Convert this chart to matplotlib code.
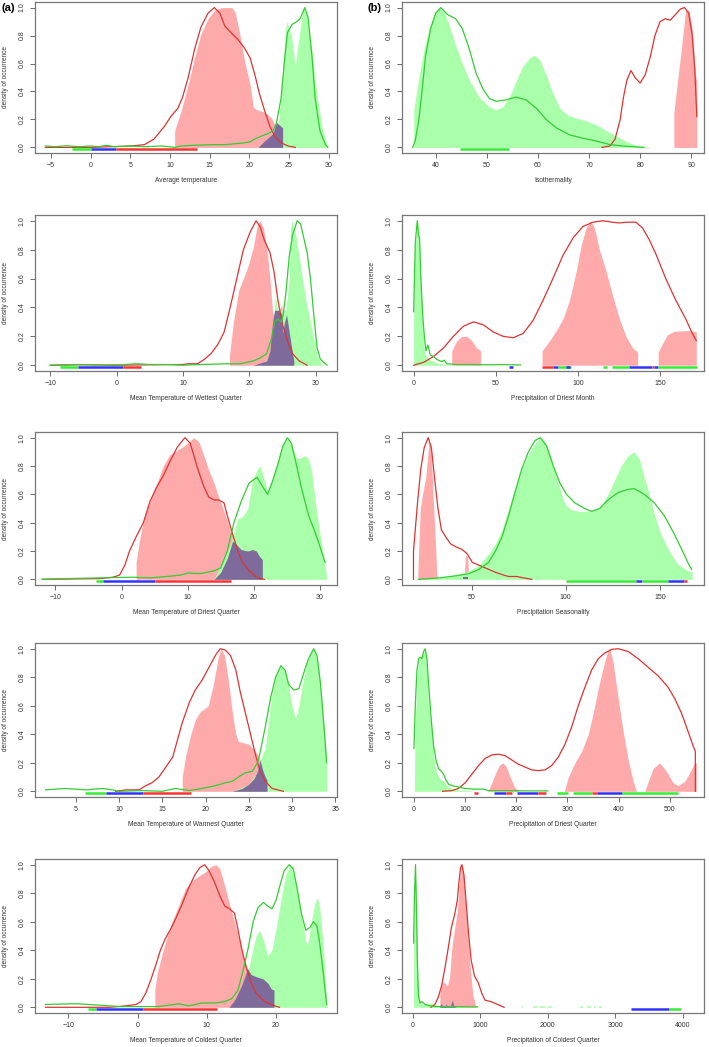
import matplotlib
matplotlib.use("Agg")
import matplotlib.pyplot as plt

plt.rcParams["font.family"] = ["Liberation Sans", "DejaVu Sans"]

RED_FILL = "#FFAAAA"
GREEN_FILL = "#AAFFAA"
PURPLE = "#7F6B9B"
RED_LINE = "#DD3333"
GREEN_LINE = "#33CC33"
SEG_COLORS = {"red": "#FF3333", "green": "#33EE33", "blue": "#3333FF"}

# ---- (a) Average temperature
a_red_fill_x = [10.6, 10.6, 11.4, 12.3, 13.1, 13.9, 14.8, 15.6, 16.5, 17.8, 18.2, 18.8, 19.4, 20.1, 20.5, 20.9, 22.0, 22.8, 23.4, 24.1, 24.5]
a_red_fill_y = [0, 0.12, 0.26, 0.45, 0.64, 0.81, 0.92, 0.98, 1.0, 1.0, 0.97, 0.81, 0.62, 0.45, 0.29, 0.27, 0.25, 0.21, 0.14, 0.05, 0]
a_green_fill_x = [23.4, 24.1, 24.5, 24.7, 25.3, 25.8, 26.3, 26.8, 27.2, 27.9, 28.5, 29.2, 29.8]
a_green_fill_y = [0.0, 0.45, 0.8, 0.9, 0.8, 0.59, 0.8, 1.0, 0.95, 0.69, 0.38, 0.14, 0.01]
a_purple_x = [21.1, 21.8, 22.4, 23.0, 23.4, 23.8, 24.2, 24.2]
a_purple_y = [0, 0.04, 0.07, 0.10, 0.18, 0.16, 0.14, 0]
a_red_line_x = [-5.7, 0, 5.1, 6.8, 8.0, 9.3, 10.1, 11.0, 11.6, 12.3, 13.1, 13.9, 14.8, 15.6, 16.3, 16.9, 17.7, 18.6, 19.4, 20.1, 20.7, 21.3, 22.0, 22.6, 23.2, 24.1, 24.9, 25.8]
a_red_line_y = [0.0, 0.0, 0.01, 0.02, 0.06, 0.15, 0.22, 0.28, 0.36, 0.5, 0.7, 0.86, 0.96, 1.0, 0.96, 0.87, 0.82, 0.77, 0.71, 0.64, 0.52, 0.38, 0.25, 0.15, 0.08, 0.03, 0.01, 0.0]
a_green_line_x = [-5.7, -4.5, -3.0, -1.5, 0.0, 1.0, 2.0, 3.0, 5.0, 7.0, 9.0, 10.6, 11.4, 13.0, 15.6, 17.0, 19.0, 20.1, 20.7, 21.5, 22.4, 23.0, 23.4, 24.0, 24.4, 24.8, 25.4, 26.0, 26.4, 27.0, 27.4, 27.9, 28.3, 28.9, 29.6, 29.9]
a_green_line_y = [0.01, 0.005, 0.012, 0.005, 0.01, 0.005, 0.015, 0.005, 0.01, 0.005, 0.01, 0.0, 0.01, 0.015, 0.02, 0.02, 0.03, 0.04, 0.06, 0.08, 0.1, 0.12, 0.17, 0.35, 0.6, 0.82, 0.88, 0.9, 0.92, 1.0, 0.93, 0.65, 0.35, 0.12, 0.02, 0.0]
a_seg_start = [-2.3, 0.0, 3.2]
a_seg_end = [0.0, 3.2, 13.4]
a_seg_color = ["green", "blue", "red"]
a_xticks = [-5, 0, 5, 10, 15, 20, 25, 30]

# ---- (b) Isothermality
b_green_fill_x = [35.7, 35.7, 36.7, 37.7, 38.7, 39.7, 40.7, 41.6, 42.6, 43.9, 45.2, 46.6, 48.5, 50.5, 51.8, 53.1, 54.4, 55.7, 57.0, 58.4, 59.3, 60.3, 61.6, 63.0, 64.3, 65.9, 67.5, 69.5, 71.5, 73.4, 75.4, 77.4, 79.3, 82.0]
b_green_fill_y = [0, 0.27, 0.5, 0.7, 0.85, 0.95, 1.0, 0.97, 0.88, 0.73, 0.6, 0.48, 0.36, 0.29, 0.27, 0.29, 0.36, 0.47, 0.58, 0.64, 0.66, 0.63, 0.52, 0.38, 0.28, 0.23, 0.21, 0.19, 0.16, 0.12, 0.08, 0.04, 0.015, 0.0]
b_green_line_x = [35.5, 36.0, 36.7, 37.4, 38.0, 39.0, 40.0, 41.0, 42.3, 43.9, 45.2, 46.6, 47.9, 49.2, 50.5, 51.8, 53.8, 55.7, 57.7, 59.7, 61.6, 63.6, 66.2, 68.9, 71.5, 74.1, 76.7, 80.7]
b_green_line_y = [0.0, 0.05, 0.2, 0.43, 0.65, 0.85, 0.96, 1.0, 0.95, 0.92, 0.85, 0.7, 0.53, 0.42, 0.35, 0.33, 0.34, 0.36, 0.34, 0.28, 0.2, 0.14, 0.09, 0.065, 0.045, 0.02, 0.01, 0.0]
b_red_fill_x = [86.6, 86.6, 87.9, 88.9, 89.6, 90.2, 90.9, 91.1, 91.1]
b_red_fill_y = [0, 0.25, 0.65, 0.98, 0.98, 0.85, 0.5, 0.48, 0]
b_red_line_x = [72.5, 74.1, 75.1, 76.1, 76.7, 77.4, 78.2, 79.0, 80.0, 81.0, 82.0, 82.9, 83.9, 84.9, 85.9, 86.9, 87.9, 88.7, 89.5, 90.2, 90.7, 91.0, 91.1]
b_red_line_y = [0.0, 0.01, 0.06, 0.2, 0.35, 0.48, 0.55, 0.5, 0.46, 0.52, 0.65, 0.8, 0.9, 0.92, 0.91, 0.95, 0.99, 1.0, 0.96, 0.8, 0.55, 0.3, 0.22]
b_seg_start = [44.7]
b_seg_end = [54.3]
b_seg_color = ["green"]
b_xticks = [40, 50, 60, 70, 80, 90]

# ---- (c) Mean Temperature of Wettest Quarter
c_red_fill_x = [17.0, 17.0, 17.6, 18.4, 19.1, 19.9, 20.6, 21.2, 21.6, 22.1, 22.6, 23.1, 23.5, 24.0, 24.5, 24.9, 25.1, 25.4, 25.8, 26.2, 26.5]
c_red_fill_y = [0, 0.07, 0.3, 0.52, 0.6, 0.7, 0.82, 0.97, 1.0, 0.95, 0.82, 0.6, 0.37, 0.3, 0.38, 0.42, 0.22, 0.35, 0.3, 0.1, 0.0]
c_green_fill_x = [22.1, 23.3, 23.9, 24.3, 25.5, 26.0, 26.2, 26.4, 27.0, 27.5, 28.0, 28.5, 29.2, 29.7, 30.2, 30.7, 31.2]
c_green_fill_y = [0.0, 0.1, 0.48, 0.38, 0.38, 0.6, 0.95, 1.0, 0.9, 0.75, 0.6, 0.45, 0.3, 0.18, 0.07, 0.02, 0.0]
c_purple_x = [20.6, 22.6, 23.1, 23.5, 23.8, 24.5, 24.9, 25.0, 25.3, 25.6, 26.1, 26.5, 26.7, 26.7]
c_purple_y = [0.0, 0.03, 0.1, 0.3, 0.38, 0.38, 0.35, 0.22, 0.3, 0.35, 0.2, 0.08, 0.03, 0.0]
c_red_line_x = [-10.0, -5.0, 0.0, 5.0, 10.0, 10.7, 12.2, 13.2, 14.2, 15.2, 16.2, 17.1, 18.1, 19.1, 20.1, 21.0, 21.6, 22.3, 23.1, 23.7, 24.3, 25.0, 25.8, 26.5, 27.5, 28.7]
c_red_line_y = [0.0, 0.003, 0.0, 0.003, 0.005, 0.01, 0.01, 0.04, 0.08, 0.14, 0.23, 0.4, 0.6, 0.8, 0.92, 1.0, 0.96, 0.86, 0.78, 0.65, 0.45, 0.28, 0.16, 0.08, 0.03, 0.0]
c_green_line_x = [-10.0, -6.0, -2.0, 0.6, 2.9, 5.0, 7.8, 10.0, 12.7, 16.7, 18.6, 20.6, 21.6, 22.6, 23.3, 23.8, 24.3, 24.8, 25.1, 25.5, 26.0, 26.5, 27.2, 27.7, 28.2, 28.7, 29.2, 29.7, 30.2, 30.7, 31.7]
c_green_line_y = [0.0, 0.005, 0.002, 0.003, 0.01, 0.005, 0.005, 0.0, 0.005, 0.01, 0.01, 0.03, 0.05, 0.08, 0.18, 0.3, 0.32, 0.3, 0.35, 0.5, 0.75, 0.9, 1.0, 0.98, 0.88, 0.78, 0.6, 0.35, 0.12, 0.04, 0.0]
c_seg_start = [-8.5, -5.8, 0.9]
c_seg_end = [-5.8, 0.9, 3.7]
c_seg_color = ["green", "blue", "red"]
c_xticks = [-10, 0, 10, 20, 30]

# ---- (d) Precipitation of Driest Month
d_green_fill_x = [0.0, 0.0, 0.6, 1.6, 2.4, 3.4, 4.4, 5.5, 6.7, 8.1, 9.1, 11.1, 14.1, 20.2, 26.0]
d_green_fill_y = [0.0, 0.37, 0.8, 0.9, 1.0, 0.85, 0.55, 0.25, 0.08, 0.06, 0.04, 0.03, 0.015, 0.005, 0.0]
d_green_line_x = [0.0, 1.0, 2.2, 3.0, 3.6, 4.4, 5.5, 6.5, 7.5, 8.7, 10.1, 12.1, 14.1, 17.2, 18.6, 20.2, 26.3, 36.4, 45.0, 55.0, 65.0]
d_green_line_y = [0.37, 0.85, 1.0, 0.9, 0.88, 0.6, 0.35, 0.2, 0.1, 0.14, 0.07, 0.06, 0.04, 0.025, 0.035, 0.01, 0.005, 0.005, 0.003, 0.004, 0.002]
d_red_fill_x = [23.2, 23.2, 26.3, 29.3, 32.3, 35.4, 38.4, 40.8, 40.8, 78.2, 78.2, 82.8, 86.9, 90.9, 94.9, 99.0, 102.0, 105.0, 107.7, 110.1, 113.1, 117.2, 121.2, 125.3, 129.3, 133.3, 136.4, 136.4, 148.9, 148.9, 151.5, 154.5, 158.6, 167.7, 172.1, 172.1]
d_red_fill_y = [0, 0.1, 0.17, 0.2, 0.2, 0.17, 0.12, 0.1, 0, 0, 0.1, 0.17, 0.24, 0.32, 0.45, 0.65, 0.83, 0.95, 1.0, 0.95, 0.8, 0.65, 0.48, 0.32, 0.2, 0.12, 0.09, 0, 0, 0.09, 0.15, 0.21, 0.235, 0.24, 0.23, 0]
d_red_line_x = [0.0, 6.1, 12.1, 18.2, 24.2, 30.3, 36.4, 42.4, 48.5, 54.5, 60.6, 66.7, 72.7, 78.8, 84.8, 90.9, 97.0, 103.0, 109.1, 115.2, 121.2, 125.3, 129.3, 135.4, 139.4, 143.4, 147.5, 153.5, 159.6, 165.7, 169.7, 172.1]
d_red_line_y = [0.0, 0.02, 0.06, 0.12, 0.2, 0.27, 0.3, 0.28, 0.23, 0.2, 0.19, 0.22, 0.31, 0.45, 0.6, 0.76, 0.88, 0.96, 0.99, 1.0, 0.99, 0.985, 0.99, 0.99, 0.95, 0.87, 0.77, 0.6, 0.45, 0.32, 0.22, 0.17]
d_seg_start = [58.0, 78.2, 85.0, 88.0, 93.0, 115.0, 121.0, 131.0, 145.0, 146.5, 149.0]
d_seg_end = [60.6, 85.0, 88.0, 96.0, 95.0, 118.0, 131.0, 145.0, 146.5, 149.0, 172.5]
d_seg_color = ["blue", "red", "blue", "green", "blue", "green", "green", "blue", "red", "blue", "green"]
d_xticks = [0, 50, 100, 150]

# ---- (e) Mean Temperature of Driest Quarter
e_red_fill_x = [2.2, 2.2, 2.8, 3.5, 4.3, 5.3, 6.3, 7.3, 8.4, 9.4, 10.2, 10.9, 11.7, 12.4, 13.2, 14.0, 14.7, 15.5, 16.3, 17.0, 17.8, 18.6, 19.6, 20.4, 20.9, 21.3, 21.3]
e_red_fill_y = [0, 0.12, 0.3, 0.45, 0.55, 0.67, 0.8, 0.88, 0.91, 0.94, 0.97, 1.0, 0.97, 0.88, 0.77, 0.68, 0.58, 0.48, 0.37, 0.27, 0.22, 0.205, 0.21, 0.2, 0.16, 0.14, 0]
e_purple_x = [14.0, 15.0, 16.0, 16.8, 17.3, 18.1, 19.1, 19.8, 20.4, 20.9, 21.3, 21.3]
e_purple_y = [0.0, 0.05, 0.15, 0.27, 0.25, 0.21, 0.2, 0.21, 0.2, 0.16, 0.14, 0.0]
e_green_fill_x = [14.0, 16.5, 17.6, 18.3, 19.1, 19.8, 20.6, 21.0, 21.6, 22.1, 22.9, 23.7, 24.4, 25.1, 25.7, 26.5, 27.2, 27.8, 28.3, 28.8, 29.3, 30.1, 30.6, 31.0, 31.0]
e_green_fill_y = [0, 0.25, 0.43, 0.44, 0.5, 0.7, 0.78, 0.8, 0.7, 0.62, 0.72, 0.85, 0.95, 1.0, 0.95, 0.85, 0.86, 0.875, 0.85, 0.75, 0.55, 0.3, 0.15, 0.03, 0]
e_green_line_x = [-12.0, -8.5, -3.4, 1.7, 4.3, 6.8, 8.9, 10.2, 11.9, 14.0, 15.0, 16.0, 17.0, 18.1, 19.3, 20.5, 21.4, 22.1, 22.9, 23.7, 24.4, 25.1, 25.7, 26.5, 27.2, 28.3, 29.3, 30.1, 30.8]
e_green_line_y = [0.0, 0.005, 0.01, 0.015, 0.01, 0.02, 0.03, 0.045, 0.04, 0.06, 0.08, 0.2, 0.4, 0.55, 0.68, 0.72, 0.65, 0.6, 0.7, 0.82, 0.94, 1.0, 0.96, 0.8, 0.65, 0.45, 0.33, 0.22, 0.12]
e_red_line_x = [-12.0, -3.4, -1.3, -0.3, 0.5, 1.2, 2.2, 3.3, 4.3, 5.3, 6.3, 7.3, 8.4, 9.4, 9.6, 10.4, 11.4, 12.4, 13.2, 14.0, 14.7, 15.5, 16.0, 16.8, 17.6, 18.3, 19.3, 20.6, 21.6]
e_red_line_y = [0.0, 0.005, 0.015, 0.03, 0.1, 0.2, 0.3, 0.4, 0.55, 0.65, 0.73, 0.83, 0.93, 0.99, 1.0, 0.96, 0.8, 0.66, 0.58, 0.56, 0.56, 0.54, 0.45, 0.32, 0.2, 0.12, 0.06, 0.01, 0.0]
e_seg_start = [-3.9, -2.8, 5.1]
e_seg_end = [-2.8, 5.1, 16.5]
e_seg_color = ["green", "blue", "red"]
e_xticks = [-10, 0, 10, 20, 30]

# ---- (f) Precipitation Seasonality
f_red_fill_x = [21.5, 21.5, 22.8, 24.0, 25.7, 27.5, 28.4, 29.6, 30.7, 31.5, 32.0, 46.0, 46.8, 47.9, 48.6]
f_red_fill_y = [0.0, 0.05, 0.5, 0.6, 0.72, 0.98, 0.95, 0.6, 0.3, 0.06, 0.0, 0.0, 0.17, 0.16, 0.0]
f_purple_x = [45.7, 45.7, 48.2, 48.2]
f_purple_y = [0, 0.02, 0.02, 0]
f_green_fill_x = [21.9, 32.8, 41.6, 48.6, 53.9, 59.1, 62.7, 66.2, 69.7, 73.2, 76.7, 80.2, 83.7, 86.6, 89.0, 92.5, 96.0, 99.6, 103.1, 106.6, 111.9, 115.4, 118.9, 122.4, 125.9, 129.4, 132.9, 136.1, 139.1, 141.7, 144.4, 147.0, 150.5, 154.9, 159.3, 163.7, 167.2, 167.2]
f_green_fill_y = [0.0, 0.01, 0.03, 0.06, 0.1, 0.18, 0.25, 0.35, 0.5, 0.65, 0.78, 0.88, 0.96, 1.0, 0.97, 0.85, 0.68, 0.53, 0.49, 0.48, 0.48, 0.49, 0.52, 0.6, 0.7, 0.8, 0.87, 0.9, 0.85, 0.72, 0.6, 0.46, 0.32, 0.2, 0.11, 0.07, 0.05, 0.0]
f_green_line_x = [21.9, 32.8, 41.6, 48.6, 53.9, 59.1, 62.7, 66.2, 69.7, 73.2, 76.7, 80.2, 83.7, 86.6, 89.9, 93.4, 96.9, 100.4, 104.8, 110.1, 113.6, 118.0, 122.4, 127.6, 132.9, 136.5, 141.7, 147.0, 152.3, 157.6, 162.0, 165.5, 166.9]
f_green_line_y = [0.0, 0.01, 0.025, 0.04, 0.07, 0.12, 0.2, 0.3, 0.45, 0.62, 0.78, 0.9, 0.98, 1.0, 0.94, 0.8, 0.68, 0.6, 0.54, 0.5, 0.48, 0.5, 0.56, 0.61, 0.635, 0.64, 0.6, 0.54, 0.45, 0.32, 0.2, 0.1, 0.07]
f_red_line_x = [19.2, 19.2, 21.4, 23.1, 24.9, 27.0, 28.7, 30.5, 32.2, 34.0, 36.3, 38.9, 41.6, 45.1, 47.7, 50.4, 53.9, 58.3, 62.7, 67.0, 69.7, 74.1, 77.6, 82.0]
f_red_line_y = [0.0, 0.2, 0.55, 0.78, 0.93, 1.0, 0.93, 0.7, 0.5, 0.35, 0.3, 0.25, 0.23, 0.21, 0.18, 0.12, 0.1, 0.075, 0.05, 0.03, 0.02, 0.02, 0.01, 0.0]
f_seg_start = [100.4, 137.3, 140.3, 154.4, 162.8]
f_seg_end = [137.3, 140.3, 154.4, 162.8, 164.6]
f_seg_color = ["green", "blue", "green", "blue", "red"]
f_xticks = [50, 100, 150]

# ---- (g) Mean Temperature of Warmest Quarter
g_red_fill_x = [17.3, 17.3, 17.7, 18.3, 18.8, 19.4, 19.9, 20.3, 20.8, 21.2, 21.5, 21.8, 22.2, 22.7, 23.1, 23.5, 23.8, 24.4, 25.0, 25.5, 26.0, 26.3, 26.6, 26.9, 27.1, 27.1]
g_red_fill_y = [0, 0.1, 0.25, 0.4, 0.5, 0.56, 0.58, 0.6, 0.72, 0.85, 0.95, 1.0, 0.95, 0.75, 0.55, 0.4, 0.35, 0.34, 0.33, 0.3, 0.26, 0.22, 0.15, 0.1, 0.08, 0]
g_purple_x = [23.1, 24.2, 25.0, 25.6, 26.0, 26.3, 26.6, 26.9, 27.1, 27.1]
g_purple_y = [0.0, 0.02, 0.05, 0.09, 0.14, 0.22, 0.15, 0.1, 0.08, 0.0]
g_green_fill_x = [23.1, 25.0, 26.0, 26.3, 26.9, 27.3, 27.7, 28.1, 28.6, 29.0, 29.5, 30.0, 30.4, 30.8, 31.2, 31.7, 32.3, 32.6, 33.1, 33.5, 33.8, 34.0, 34.0]
g_green_fill_y = [0, 0.05, 0.14, 0.22, 0.3, 0.5, 0.7, 0.8, 0.87, 0.87, 0.78, 0.6, 0.51, 0.6, 0.75, 0.9, 0.98, 1.0, 0.85, 0.6, 0.38, 0.25, 0]
g_green_line_x = [1.5, 3.8, 6.2, 8.1, 9.2, 10.0, 12.7, 15.0, 16.5, 18.1, 19.6, 21.2, 22.3, 23.1, 23.8, 24.6, 25.4, 26.0, 26.3, 26.9, 27.5, 28.1, 28.7, 29.2, 29.6, 30.2, 30.8, 31.3, 31.9, 32.5, 32.9, 33.3, 33.7, 34.0]
g_green_line_y = [0.01, 0.02, 0.01, 0.02, 0.01, 0.0, 0.005, 0.0, 0.02, 0.005, 0.02, 0.04, 0.06, 0.07, 0.1, 0.13, 0.14, 0.2, 0.27, 0.45, 0.65, 0.8, 0.88, 0.85, 0.75, 0.71, 0.72, 0.82, 0.93, 1.0, 0.95, 0.75, 0.45, 0.2]
g_red_line_x = [9.6, 10.8, 12.3, 13.1, 13.8, 14.6, 15.4, 16.2, 16.7, 17.3, 18.1, 18.8, 19.6, 20.4, 21.2, 21.7, 22.3, 22.9, 23.5, 24.0, 24.6, 25.2, 25.8, 26.3, 26.9, 27.7, 29.0]
g_red_line_y = [0.0, 0.01, 0.01, 0.04, 0.06, 0.1, 0.17, 0.24, 0.35, 0.48, 0.62, 0.71, 0.78, 0.87, 0.96, 1.0, 0.99, 0.95, 0.85, 0.7, 0.55, 0.4, 0.25, 0.14, 0.07, 0.02, 0.0]
g_seg_start = [6.0, 8.5, 12.8]
g_seg_end = [8.5, 12.8, 18.3]
g_seg_color = ["green", "blue", "red"]
g_xticks = [5, 10, 15, 20, 25, 30, 35]

# ---- (h) Precipitation of Driest Quarter
h_green_fill_x = [1.3, 3.2, 6.5, 9.7, 14.9, 19.5, 22.7, 26.0, 29.2, 34.4, 38.9, 45.4, 51.9, 58.4, 64.9, 74.6, 87.6, 107.0, 120.0]
h_green_fill_y = [0.0, 0.5, 0.8, 0.92, 0.94, 0.97, 0.99, 0.85, 0.6, 0.45, 0.25, 0.12, 0.09, 0.07, 0.04, 0.02, 0.01, 0.005, 0.0]
h_green_line_x = [0.6, 3.2, 6.5, 9.7, 13.0, 16.2, 19.5, 22.7, 26.0, 29.2, 34.4, 38.9, 43.5, 48.7, 53.9, 58.4, 62.9, 68.1, 74.6, 87.6, 100.6, 120.0, 136.3, 146.0, 178.0, 220.0, 262.0]
h_green_line_y = [0.3, 0.6, 0.85, 0.93, 0.94, 0.93, 0.98, 1.0, 0.93, 0.75, 0.5, 0.32, 0.22, 0.16, 0.14, 0.12, 0.08, 0.05, 0.04, 0.03, 0.02, 0.015, 0.015, 0.005, 0.005, 0.003, 0.003]
h_red_fill_x = [144.7, 152.5, 159.0, 166.8, 173.3, 179.8, 188.2, 196.6, 205.7, 294.0, 301.8, 314.7, 327.7, 340.7, 350.4, 360.2, 369.9, 378.3, 382.9, 389.4, 399.1, 408.8, 418.6, 428.3, 434.8, 451.0, 458.8, 467.2, 480.2, 493.2, 506.2, 515.9, 528.9, 538.6, 548.3, 551.6, 551.6]
h_red_fill_y = [0.0, 0.06, 0.12, 0.18, 0.2, 0.18, 0.1, 0.03, 0.0, 0.0, 0.1, 0.2, 0.28, 0.4, 0.55, 0.72, 0.87, 0.98, 1.0, 0.9, 0.65, 0.42, 0.22, 0.07, 0.0, 0.0, 0.08, 0.16, 0.2, 0.14, 0.06, 0.04, 0.07, 0.13, 0.2, 0.2, 0.0]
h_red_line_x = [56.5, 74.6, 87.6, 100.6, 113.6, 126.5, 139.5, 152.5, 165.5, 178.5, 191.4, 204.4, 217.4, 230.4, 243.3, 256.3, 269.3, 282.3, 295.3, 308.2, 321.2, 334.2, 347.2, 360.2, 373.1, 386.1, 399.1, 418.6, 438.0, 457.5, 477.0, 496.4, 509.4, 522.4, 535.4, 545.1, 549.6, 549.6]
h_red_line_y = [0.0, 0.005, 0.02, 0.06, 0.12, 0.18, 0.23, 0.255, 0.26, 0.25, 0.22, 0.19, 0.17, 0.15, 0.145, 0.15, 0.18, 0.24, 0.33, 0.45, 0.6, 0.73, 0.85, 0.93, 0.97, 0.995, 1.0, 0.98, 0.93, 0.87, 0.81, 0.73, 0.65, 0.55, 0.42, 0.32, 0.28, 0.0]
h_seg_start = [116.8, 157.7, 179.8, 201.0, 243.3, 280.3, 311.5, 347.2, 356.9, 405.6]
h_seg_end = [126.5, 179.8, 192.7, 243.3, 257.6, 301.8, 347.2, 356.9, 405.6, 515.9]
h_seg_color = ["red", "blue", "red", "blue", "red", "green", "green", "red", "blue", "green"]
h_xticks = [0, 100, 200, 300, 400, 500]

# ---- (i) Mean Temperature of Coldest Quarter
i_red_fill_x = [2.5, 2.5, 2.9, 3.6, 4.3, 5.0, 6.0, 6.9, 7.9, 8.8, 9.8, 10.7, 11.3, 11.9, 12.6, 13.3, 14.0, 14.8, 15.4, 15.9, 16.4, 17.1, 18.1, 18.8, 19.3, 19.7, 19.7]
i_red_fill_y = [0.0, 0.13, 0.25, 0.38, 0.5, 0.6, 0.72, 0.83, 0.89, 0.92, 0.95, 0.99, 1.0, 0.97, 0.85, 0.72, 0.6, 0.45, 0.33, 0.27, 0.23, 0.215, 0.2, 0.17, 0.13, 0.12, 0.0]
i_purple_x = [13.2, 14.0, 15.0, 15.9, 16.4, 17.1, 18.1, 18.8, 19.3, 19.7, 19.7]
i_purple_y = [0.0, 0.05, 0.15, 0.27, 0.23, 0.215, 0.2, 0.17, 0.13, 0.12, 0.0]
i_green_fill_x = [13.6, 15.7, 16.4, 17.1, 17.6, 18.2, 18.8, 19.4, 20.0, 20.7, 21.4, 22.0, 22.6, 23.3, 23.8, 24.3, 24.6, 25.1, 25.6, 26.0, 26.3, 26.8, 27.1, 27.4]
i_green_fill_y = [0.0, 0.2, 0.35, 0.5, 0.54, 0.47, 0.36, 0.4, 0.55, 0.75, 0.93, 1.0, 0.93, 0.75, 0.6, 0.46, 0.44, 0.6, 0.73, 0.77, 0.7, 0.45, 0.2, 0.0]
i_green_line_x = [-13.3, -8.8, -5.5, -4.0, -2.6, 0.2, 3.1, 6.0, 7.4, 9.3, 11.2, 12.6, 13.6, 14.5, 15.2, 16.0, 16.7, 17.4, 18.2, 18.8, 19.4, 20.0, 20.7, 21.2, 21.9, 22.5, 23.1, 23.7, 24.3, 24.9, 25.4, 25.9, 26.3, 26.8, 27.3]
i_green_line_y = [0.02, 0.025, 0.015, 0.01, 0.005, 0.005, 0.005, 0.025, 0.01, 0.03, 0.03, 0.04, 0.06, 0.12, 0.25, 0.42, 0.6, 0.7, 0.735, 0.71, 0.69, 0.75, 0.88, 0.96, 1.0, 0.97, 0.82, 0.65, 0.54, 0.56, 0.6, 0.57, 0.45, 0.25, 0.02]
i_red_line_x = [-13.3, -4.0, -1.7, -0.2, 0.5, 1.2, 1.9, 2.6, 3.3, 4.0, 4.8, 5.5, 6.4, 7.4, 8.3, 9.0, 9.7, 10.3, 11.1, 11.9, 12.6, 13.3, 14.0, 14.4, 15.0, 15.7, 16.4, 17.1, 17.9, 18.8, 19.8, 20.5]
i_red_line_y = [0.0, 0.0, 0.01, 0.02, 0.04, 0.1, 0.19, 0.29, 0.4, 0.48, 0.55, 0.62, 0.72, 0.84, 0.93, 0.98, 1.0, 0.96, 0.88, 0.78, 0.71, 0.69, 0.66, 0.57, 0.42, 0.28, 0.17, 0.1, 0.06, 0.03, 0.01, 0.0]
i_seg_start = [-7.2, -6.0, 0.8]
i_seg_end = [-6.0, 0.8, 11.5]
i_seg_color = ["green", "blue", "red"]
i_xticks = [-10, 0, 10, 20]

# ---- (j) Precipitation of Coldest Quarter
j_green_fill_x = [15, 15, 29, 39, 54, 68, 83, 102, 136, 283, 331, 429, 940]
j_green_fill_y = [0.0, 0.45, 0.9, 1.0, 0.75, 0.4, 0.15, 0.04, 0.02, 0.03, 0.02, 0.005, 0.0]
j_green_line_x = [15, 29, 44, 58, 73, 88, 112, 136, 185, 258, 331, 575, 964]
j_green_line_y = [0.45, 0.8, 1.0, 0.7, 0.3, 0.08, 0.03, 0.04, 0.02, 0.01, 0.005, 0.005, 0.003]
j_red_fill_x = [404, 404, 438, 477, 516, 550, 575, 599, 662, 697, 721, 745, 760, 794, 843, 891, 940]
j_red_fill_y = [0, 0.1, 0.18, 0.17, 0.15, 0.22, 0.39, 0.48, 0.67, 0.9, 1.0, 0.97, 0.9, 0.67, 0.33, 0.09, 0]
j_purple_x = [400, 415, 430, 450, 480, 500, 515, 530, 560, 590, 610, 625, 650]
j_purple_y = [0.0, 0.025, 0.02, 0.01, 0.005, 0.025, 0.005, 0.005, 0.01, 0.05, 0.01, 0.005, 0.0]
j_red_line_x = [273, 331, 380, 429, 477, 526, 575, 623, 662, 687, 711, 731, 760, 794, 828, 867, 916, 974, 1023, 1072, 1159, 1257, 1354]
j_red_line_y = [0.0, 0.02, 0.07, 0.15, 0.27, 0.41, 0.56, 0.65, 0.75, 0.88, 0.98, 1.0, 0.93, 0.73, 0.52, 0.33, 0.22, 0.17, 0.1, 0.05, 0.04, 0.02, 0.0]
j_seg_start = [3229, 3790]
j_seg_end = [3790, 3975]
j_seg_color = ["blue", "green"]
j_faint_start = [1620, 1780, 1880, 2000, 2480, 2580, 2680, 2760]
j_faint_end = [1640, 1860, 1960, 2060, 2520, 2640, 2720, 2800]
j_xticks = [0, 1000, 2000, 3000, 4000]

panel_xlim = {
    "a": (-7.0, 31.05), "b": (33.4, 92.5), "c": (-12.3, 33.2), "d": (-7.1, 176.8),
    "e": (-13.1, 32.6), "f": (13.1, 173.4), "g": (0.27, 35.2), "h": (-22.7, 566.5),
    "i": (-14.8, 28.8), "j": (-156, 4311),
}
panel_xlabel = {
    "a": "Average temperature", "b": "Isothermality",
    "c": "Mean Temperature of Wettest Quarter", "d": "Precipitation of Driest Month",
    "e": "Mean Temperature of Driest Quarter", "f": "Precipitation Seasonality",
    "g": "Mean Temperature of Warmest Quarter", "h": "Precipitation of Driest Quarter",
    "i": "Mean Temperature of Coldest Quarter", "j": "Precipitation of Coldest Quarter",
}
yticks = [0.0, 0.2, 0.4, 0.6, 0.8, 1.0]

# figure layout in pixels (709 x 1047)
W, H = 709, 1047
row_top = [2, 215, 432, 643, 859]
row_bot = [153, 371, 585, 797, 1013]
col_left = [35, 402]
col_right = [337, 704]


def draw_panel(ax, key):
    g = globals()
    get = lambda name: g.get(f"{key}_{name}")
    if get("red_fill_x"):
        ax.fill_between(get("red_fill_x"), get("red_fill_y"), 0, color=RED_FILL, lw=0)
    if get("green_fill_x"):
        ax.fill_between(get("green_fill_x"), get("green_fill_y"), 0, color=GREEN_FILL, lw=0)
    if get("purple_x"):
        ax.fill_between(get("purple_x"), get("purple_y"), 0, color=PURPLE, lw=0)
    if get("faint_start"):
        ax.hlines([0.004] * len(get("faint_start")), get("faint_start"), get("faint_end"),
                  colors=GREEN_FILL, lw=1.2)
    ax.plot(get("red_line_x"), get("red_line_y"), color=RED_LINE, lw=0.9)
    ax.plot(get("green_line_x"), get("green_line_y"), color=GREEN_LINE, lw=0.9)
    ax.hlines([-0.01] * len(get("seg_start")), get("seg_start"), get("seg_end"),
              colors=[SEG_COLORS[c] for c in get("seg_color")], lw=1.8)

    ax.set_xlim(*panel_xlim[key])
    ax.set_ylim(-0.04, 1.04)
    ax.set_xticks(get("xticks"))
    ax.set_yticks(yticks)
    ax.set_yticklabels([f"{v:.1f}" for v in yticks], rotation=90, va="center")
    for s in ax.spines.values():
        s.set_color("#777777")
        s.set_linewidth(0.9)
    ax.tick_params(direction="out", length=3.6, width=0.6, color="#555555",
                   labelsize=5.0, labelcolor="#333333", pad=3)
    ax.set_xlabel(panel_xlabel[key], fontsize=4.8, color="#333333")
    ax.set_ylabel("density of occurrence", fontsize=4.7, color="#333333")


fig = plt.figure(figsize=(W / 100, H / 100), dpi=100)
keys = ["a", "b", "c", "d", "e", "f", "g", "h", "i", "j"]
for n, key in enumerate(keys):
    r, c = divmod(n, 2)
    left, right = col_left[c], col_right[c]
    top, bot = row_top[r], row_bot[r]
    ax = fig.add_axes([left / W, 1 - bot / H, (right - left) / W, (bot - top) / H])
    draw_panel(ax, key)
    ax.xaxis.set_label_coords(0.5, -24 / (bot - top))
    ax.yaxis.set_label_coords(-25.5 / (right - left), 0.5)

fig.text(2 / W, 1 - 8 / H, "(a)", fontsize=8, fontweight="bold", va="center", ha="left")
fig.text(367 / W, 1 - 8 / H, "(b)", fontsize=8, fontweight="bold", va="center", ha="left")

fig.savefig("out.png", dpi=100)
